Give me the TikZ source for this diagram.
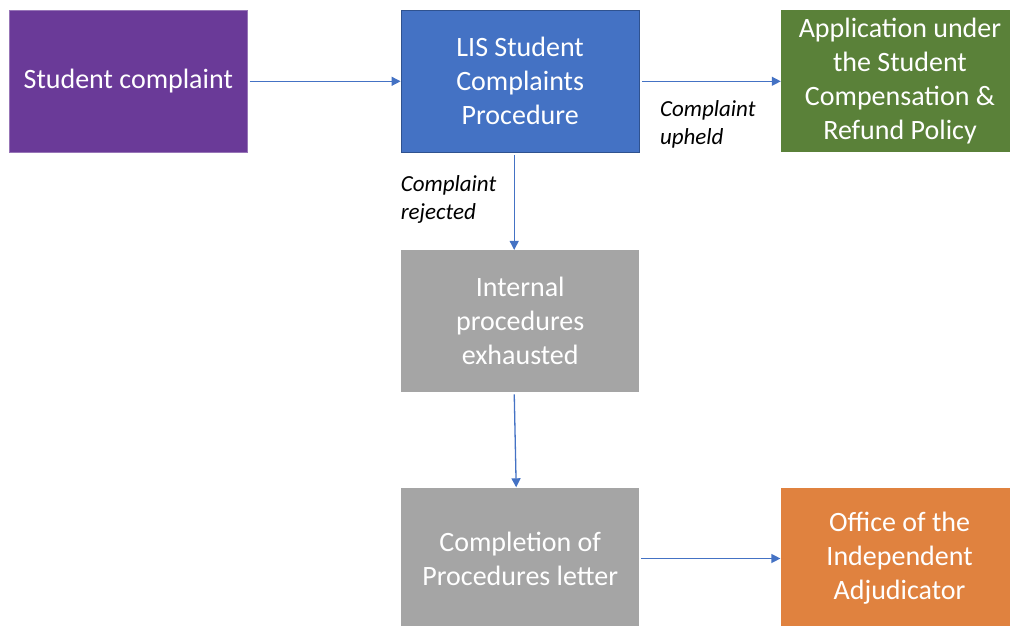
\documentclass[tikz,border=0pt]{standalone}
\usepackage{fontspec}
\setmainfont{Carlito}
\usetikzlibrary{arrows.meta,positioning}

\definecolor{cpurple}{HTML}{6A3A98}
\definecolor{cblue}{HTML}{4472C4}
\definecolor{cblueline}{HTML}{2F528F}
\definecolor{cgreen}{HTML}{5A8139}
\definecolor{cgray}{HTML}{A5A5A5}
\definecolor{corange}{HTML}{E0823F}

\begin{document}
\begin{tikzpicture}[
  x=1pt, y=-1pt,
  box/.style={minimum width=238pt, minimum height=142pt, inner sep=0pt, align=center,
    text=white, font=\fontsize{28}{34}\selectfont},
  arrow/.style={-{Triangle[length=9pt,width=9pt]}, line width=1.3pt, draw=cblue, shorten <=2pt},
  lbl/.style={align=left, inner sep=0pt, font=\fontsize{23}{28}\selectfont\itshape},
  node distance=97pt and 153pt
]
\useasboundingbox (0,0) rectangle (1010,626);
\clip (0,0) rectangle (1010,626);

\node[box, fill=cpurple, draw=cpurple!70!white, line width=0.6pt, anchor=north west] (student) at (9,10) {Student complaint};
\node[box, fill=cblue, draw=cblueline, line width=1.2pt, right=153pt of student] (lis) {LIS Student\\Complaints\\Procedure};
\node[box, fill=cgreen, right=141pt of lis] (refund) {Application under\\the Student\\Compensation \&\\Refund Policy};
\node[box, fill=cgray, below=97pt of lis] (internal) {Internal\\procedures\\exhausted};
\node[box, fill=cgray, below=95pt of internal] (letter) {Completion of\\Procedures letter};
\node[box, fill=corange, right=141pt of letter] (oia) {Office of the\\Independent\\Adjudicator};

\draw[arrow] (student) -- (lis);
\draw[arrow] (lis) -- (refund);
\draw[arrow] ([xshift=-6pt]lis.south) -- ([xshift=-6pt]internal.north);
\draw[arrow] ([xshift=-6pt]internal.south) -- ([xshift=-4pt]letter.north);
\draw[arrow] (letter) -- (oia);

% branch labels
\node[lbl, anchor=north west, xshift=20pt, yshift=-19pt] at (lis.east) {Complaint\\upheld};
\node[lbl, anchor=north west, yshift=-22pt] at (lis.south west) {Complaint\\rejected};

\end{tikzpicture}
\end{document}
